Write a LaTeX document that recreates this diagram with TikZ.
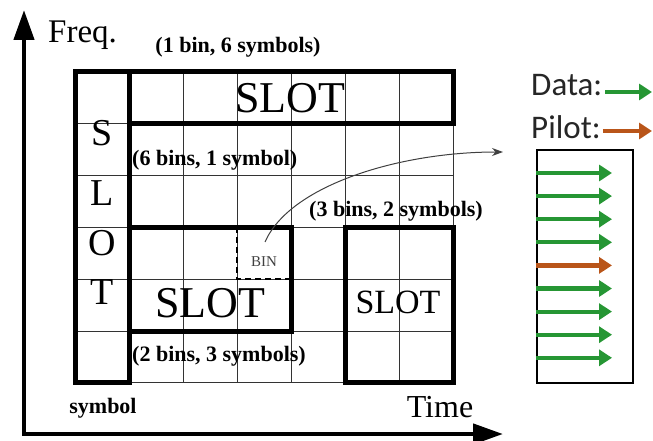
\documentclass[tikz,border=0pt]{standalone}
\usepackage{fontspec}
\setmainfont{Liberation Serif}
\newfontfamily\legendfont{Carlito}
\usetikzlibrary{arrows.meta}
\definecolor{datagreen}{RGB}{38,150,52}
\definecolor{pilotbrown}{RGB}{185,85,25}

\begin{document}
\begin{tikzpicture}[x=1pt,y=-1pt,
  slotbox/.style={line width=5pt},
  cellgrid/.style={black!80,line width=0.9pt},
  axis/.style={line width=4.5pt,{Triangle[length=30pt,width=20pt]}-{Triangle[length=30pt,width=20pt]}},
  tag/.style={font=\bfseries\fontsize{22}{22}\selectfont,inner sep=0pt},
  big/.style={font=\fontsize{44}{44}\selectfont,inner sep=0pt},
  sig/.style={line width=4.2pt,-{Triangle[length=13pt,width=16pt]}}]

\useasboundingbox (0,0) rectangle (653,441);

%the axes
    \coordinate (ftop) at (24,10);
    \coordinate (origin) at (24,434);
    \coordinate (tend) at (503,434);
    \draw[axis] (ftop) -- (origin) -- (tend);

%the time-frequency grid, one unit = one cell
\begin{scope}[shift={(75,72)},x=54pt,y=-51.8pt]
    \foreach \c in {1,...,6} \draw[cellgrid] (\c,0) -- (\c,6);
    \foreach \r in {1,...,5} \draw[cellgrid] (0,\r) -- (7,\r);
    \draw[cellgrid] (0,0) rectangle (7,6);
% the slots
    \draw[slotbox] (0,0) rectangle (1,6);
    \draw[slotbox] (1,0) rectangle (7,1);
    \draw[slotbox] (1,3) rectangle (4,5);
    \draw[slotbox] (5,3) rectangle (7,6);
% one bin
    \draw[line width=1.8pt,dash pattern=on 6pt off 4pt] (3,3) -- (3,4) -- (4,4);
\end{scope}

%labels
    \node[anchor=base west,font=\fontsize{33}{33}\selectfont,inner sep=0pt] (freq) at (48,43) {Freq.};
    \node[anchor=base,font=\fontsize{32}{32}\selectfont,inner sep=0pt] (time) at (440,417) {Time};
    \node[tag,anchor=base] (sym) at (103,413) {symbol};
    \node[tag] (topinfo) at (238,47) {(1 bin, 6 symbols)};
    \node[tag,anchor=west] (leftinfo) at (132,160) {(6 bins, 1 symbol)};
    \node[tag] (rightinfo) at (396,211) {(3 bins, 2 symbols)};
    \node[tag,anchor=west] (midinfo) at (132,356) {(2 bins, 3 symbols)};

    \node[big] (topslot) at (290,98) {SLOT};
    \node[big] (midslot) at (210,303) {SLOT};
    \node[font=\fontsize{34}{34}\selectfont,inner sep=0pt] (rightslot) at (398,302) {SLOT};
    \foreach \l/\y in {S/133,L/193,O/243,T/292}
    \node[font=\fontsize{38}{38}\selectfont,inner sep=0pt] (v\l) at (102,\y) {\l};
    \node[font=\fontsize{15}{15}\selectfont,text=black!75,inner sep=0pt] (bin) at (264,262) {BIN};

% the zoom-in arrow
    \coordinate (binfrom) at (265,242);
    \coordinate (binto) at (503,152);
    \draw[black!75,line width=1pt,-{Stealth[length=11pt,width=8pt]}] (binfrom) .. controls (290,185) and (400,152) .. (binto);

%the legend and the bin content
    \node[anchor=base west,font=\legendfont\fontsize{33}{33}\selectfont,text=black!85,inner sep=0pt] (data) at (531,96) {Data:};
    \node[anchor=base west,font=\legendfont\fontsize{33}{33}\selectfont,text=black!85,inner sep=0pt] (pilot) at (531,139) {Pilot:};
    \coordinate (dataend) at (652,92);
    \coordinate (pilotend) at (652,131);
    \draw[sig,datagreen] (data.east |- dataend) ++(3,0) -- (dataend);
    \draw[sig,pilotbrown] (pilot.east |- pilotend) ++(2,0) -- (pilotend);

    \node[draw,line width=2.5pt,minimum width=96pt,minimum height=233pt,inner sep=0pt] (binframe) at (585,266.5) {};
    \foreach \c [count=\i from 0] in {datagreen,datagreen,datagreen,datagreen,pilotbrown,datagreen,datagreen,datagreen,datagreen}
    \draw[sig,\c] (binframe.west |- 0,{173+23.1*\i}) -- (612,{173+23.1*\i});
\end{tikzpicture}
\end{document}
